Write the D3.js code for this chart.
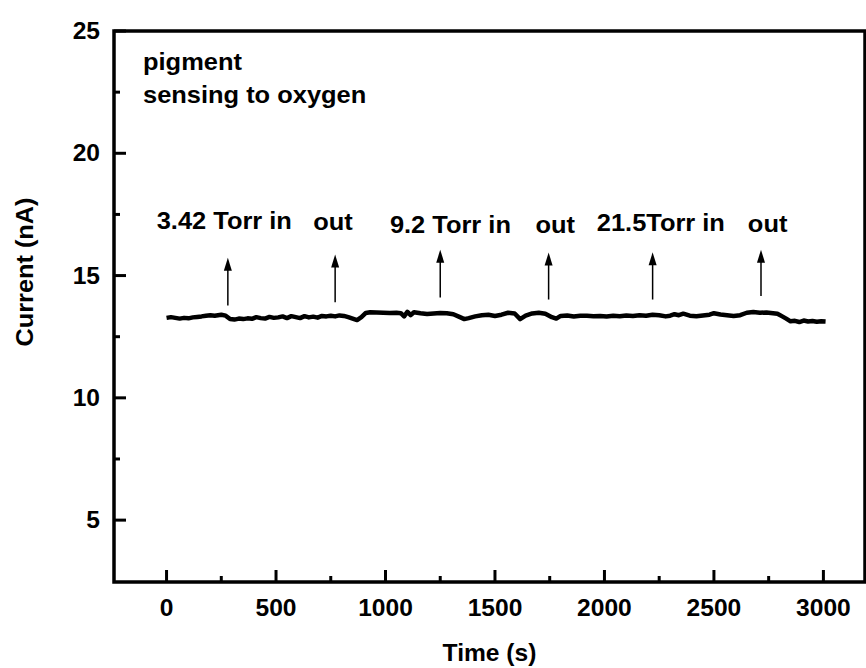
<!DOCTYPE html>
<html>
<head>
<meta charset="utf-8">
<script src="https://cdn.jsdelivr.net/npm/d3@7"></script>
<style>
  body { margin: 0; background: #fff; }
  text { font-family: "Liberation Sans", Arial, sans-serif; font-weight: bold; fill: #000; }
</style>
</head>
<body>
<svg id="chart" width="866" height="668"></svg>
<script>
// time (s) and current (nA) of the trace
var times = [0, 20, 40, 60, 80, 100, 120, 140, 160, 180, 200, 220, 250, 270, 290, 310, 330, 350, 370, 390,
  410, 430, 450, 470, 490, 510, 530, 550, 570, 590, 610, 630, 650, 670, 690, 710, 730, 750, 770, 790,
  810, 830, 850, 870, 890, 910, 930, 960, 990, 1020, 1050, 1070, 1085, 1100, 1115, 1130, 1160, 1190, 1220, 1250,
  1280, 1310, 1340, 1360, 1380, 1410, 1440, 1470, 1500, 1530, 1560, 1590, 1615, 1640, 1670, 1700, 1730, 1760, 1780, 1800,
  1830, 1860, 1890, 1920, 1950, 1980, 2010, 2040, 2070, 2100, 2130, 2160, 2190, 2220, 2250, 2280, 2300, 2320, 2340, 2360,
  2390, 2420, 2450, 2480, 2500, 2530, 2560, 2590, 2620, 2650, 2680, 2710, 2740, 2770, 2790, 2810, 2830, 2850, 2870, 2890,
  2910, 2930, 2950, 2970, 2990, 3010];
var current = [13.27, 13.30, 13.27, 13.24, 13.27, 13.25, 13.29, 13.31, 13.33, 13.36, 13.38, 13.36, 13.40, 13.36, 13.22, 13.20, 13.24, 13.22, 13.25, 13.23,
  13.30, 13.26, 13.24, 13.31, 13.27, 13.29, 13.33, 13.26, 13.34, 13.30, 13.26, 13.34, 13.29, 13.32, 13.28, 13.35, 13.33, 13.36, 13.33, 13.37,
  13.35, 13.30, 13.24, 13.18, 13.30, 13.47, 13.50, 13.49, 13.48, 13.47, 13.48, 13.46, 13.33, 13.52, 13.38, 13.50, 13.46, 13.43, 13.45, 13.47,
  13.46, 13.42, 13.30, 13.22, 13.26, 13.33, 13.38, 13.40, 13.35, 13.40, 13.48, 13.45, 13.22, 13.36, 13.45, 13.48, 13.44, 13.30, 13.24, 13.35,
  13.37, 13.33, 13.36, 13.36, 13.34, 13.35, 13.33, 13.36, 13.34, 13.37, 13.35, 13.38, 13.36, 13.40, 13.38, 13.33, 13.36, 13.42, 13.38, 13.44,
  13.36, 13.34, 13.37, 13.40, 13.46, 13.41, 13.38, 13.35, 13.38, 13.48, 13.51, 13.48, 13.49, 13.46, 13.44, 13.34, 13.24, 13.13, 13.15, 13.10,
  13.16, 13.12, 13.14, 13.11, 13.13, 13.12];

// gas in/out markers: time, label, arrow tail and tip (nA)
var arrowTimes = [280, 770, 1250, 1745, 2220, 2715];
var arrowTails = [13.78, 13.91, 14.10, 14.02, 14.02, 14.16];
var arrowTips = [15.73, 15.86, 16.06, 15.94, 15.95, 16.06];
var arrowLabels = ["3.42 Torr in", "out", "9.2 Torr in", "out", "21.5Torr in", "out"];
var labelTimes = [-45, 670, 1020, 1685, 1965, 2655];
var labelValues = [16.9, 16.85, 16.75, 16.75, 16.82, 16.78];

var xTicks = [0, 500, 1000, 1500, 2000, 2500, 3000];
var xMinor = [250, 750, 1250, 1750, 2250, 2750];
var yTicks = [5, 10, 15, 20, 25];
var yMinor = [7.5, 12.5, 17.5, 22.5];

var svg = d3.select("#chart");
var plotLeft = 114, plotRight = 865, plotTop = 31, plotBottom = 582;

var x = d3.scaleLinear().domain([-240, 3190]).range([plotLeft, plotRight]);
var y = d3.scaleLinear().domain([2.47, 25]).range([plotBottom, plotTop]);

// text a bit wider than Liberation Sans, like the original
function label(str, px, py, anchor, size, stretch) {
  return svg.append("text")
    .attr("transform", "translate(" + px + "," + py + ")scale(" + (stretch || 1.07) + ",1)")
    .attr("text-anchor", anchor || "start")
    .style("font-size", (size || 23) + "px")
    .text(str);
}

// frame
svg.append("rect")
  .attr("x", plotLeft).attr("y", plotTop)
  .attr("width", plotRight - plotLeft).attr("height", plotBottom - plotTop)
  .attr("fill", "none").attr("stroke", "#000").attr("stroke-width", 3.5);

// x ticks (inward)
svg.selectAll(".xmaj").data(xTicks).enter().append("line")
  .attr("x1", x).attr("x2", x).attr("y1", plotBottom).attr("y2", plotBottom - 12)
  .attr("stroke", "#000").attr("stroke-width", 3);
svg.selectAll(".xmin").data(xMinor).enter().append("line")
  .attr("x1", x).attr("x2", x).attr("y1", plotBottom).attr("y2", plotBottom - 6)
  .attr("stroke", "#000").attr("stroke-width", 3);
xTicks.forEach(function(d) { label(d, x(d), plotBottom + 34, "middle"); });

// y ticks
svg.selectAll(".ymaj").data(yTicks).enter().append("line")
  .attr("x1", plotLeft).attr("x2", plotLeft + 12).attr("y1", y).attr("y2", y)
  .attr("stroke", "#000").attr("stroke-width", 3);
svg.selectAll(".ymin").data(yMinor).enter().append("line")
  .attr("x1", plotLeft).attr("x2", plotLeft + 6).attr("y1", y).attr("y2", y)
  .attr("stroke", "#000").attr("stroke-width", 3);
yTicks.forEach(function(d) { label(d, plotLeft - 14, y(d) + 8, "end"); });

// axis titles
label("Time (s)", (plotLeft + plotRight) / 2, 661, "middle");
svg.append("text")
  .attr("transform", "translate(33,272)rotate(-90)scale(1.1,1)")
  .attr("text-anchor", "middle")
  .style("font-size", "23px")
  .text("Current (nA)");

// trace
var line = d3.line()
  .x(function(d, i) { return x(times[i]); })
  .y(function(d) { return y(d); });
svg.append("path")
  .attr("d", line(current))
  .attr("fill", "none").attr("stroke", "#000")
  .attr("stroke-width", 4.5).attr("stroke-linejoin", "round");

// arrows
arrowTimes.forEach(function(t, i) {
  var ax = x(t), tail = y(arrowTails[i]), tip = y(arrowTips[i]);
  svg.append("line")
    .attr("x1", ax).attr("x2", ax).attr("y1", tail).attr("y2", tip + 10)
    .attr("stroke", "#000").attr("stroke-width", 1.5);
  svg.append("path")
    .attr("d", "M" + ax + "," + tip + "L" + (ax - 4) + "," + (tip + 13) + "L" + (ax + 4) + "," + (tip + 13) + "Z")
    .attr("fill", "#000");
  label(arrowLabels[i], x(labelTimes[i]), y(labelValues[i]), "start", 24, 1.06);
});

// sample note
label("pigment", 143, 70, "start", 24, 1.06);
label("sensing to oxygen", 143, 103, "start", 24, 1.06);
</script>
</body>
</html>
